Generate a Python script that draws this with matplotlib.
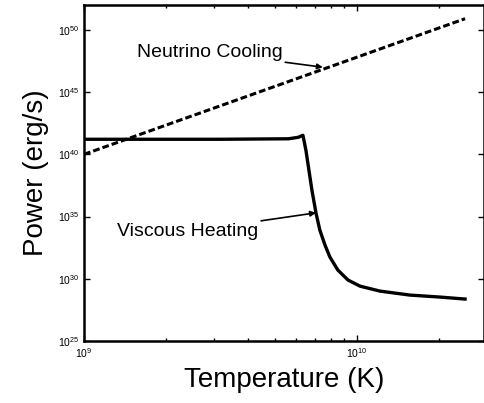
import matplotlib
matplotlib.use("Agg")
import matplotlib.pyplot as plt
import numpy as np

plt.rcParams['font.family'] = ['Liberation Sans', 'DejaVu Sans']

nu_T = [1e9, 2.49e10]
nu_P = [1e40, 10**50.9]

vh_logT = [9.0, 9.5, 9.75, 9.785, 9.802, 9.813, 9.824, 9.835, 9.850, 9.864, 9.883, 9.901, 9.930, 9.967, 10.011, 10.084, 10.194, 10.304, 10.396]
vh_logP = [41.21, 41.21, 41.25, 41.37, 41.53, 40.33, 38.72, 37.12, 35.27, 33.91, 32.70, 31.74, 30.70, 29.90, 29.41, 29.01, 28.69, 28.53, 28.37]

fig = plt.figure(figsize=(4.85, 4.03), dpi=100)
ax = fig.add_axes([84/485, 1-341/403, 400/485, 336/403])
ax.set_xscale('log'); ax.set_yscale('log')
ax.plot(nu_T, nu_P, color='black', lw=2.2, ls=(0, (2.2, 1)))
ax.plot(10**np.array(vh_logT), 10**np.array(vh_logP), color='black', lw=2.4)
ax.set_xlim(1e9, 2.92e10)
ax.set_ylim(1e25, 1e52)
ax.set_yticks([1e25, 1e30, 1e35, 1e40, 1e45, 1e50])
ax.set_yticks([], minor=True)
ax.set_xticks([1e9, 1e10])
ax.tick_params(direction='in', which='both', labelsize=7.5, top=True, right=True)
ax.tick_params(which='major', length=4, width=1)
ax.tick_params(which='minor', length=2.5, width=1)
for s in ax.spines.values():
    s.set_linewidth(1.8)
ax.set_xlabel('Temperature (K)', fontsize=20, labelpad=5)
ax.set_ylabel('Power (erg/s)', fontsize=20, labelpad=6)
ax.annotate('Neutrino Cooling', xy=(10**9.875, 10**47.0), xytext=(10**9.46, 10**48.2),
            fontsize=14, ha='center', va='center',
            arrowprops=dict(arrowstyle='-|>', color='black', lw=1.2, shrinkA=0, shrinkB=0, mutation_scale=8))
ax.annotate('Viscous Heating', xy=(10**9.85, 10**35.3), xytext=(10**9.38, 10**33.8),
            fontsize=14, ha='center', va='center',
            arrowprops=dict(arrowstyle='-|>', color='black', lw=1.2, shrinkA=0, shrinkB=0, mutation_scale=8))
fig.savefig('out.png', dpi=100)
